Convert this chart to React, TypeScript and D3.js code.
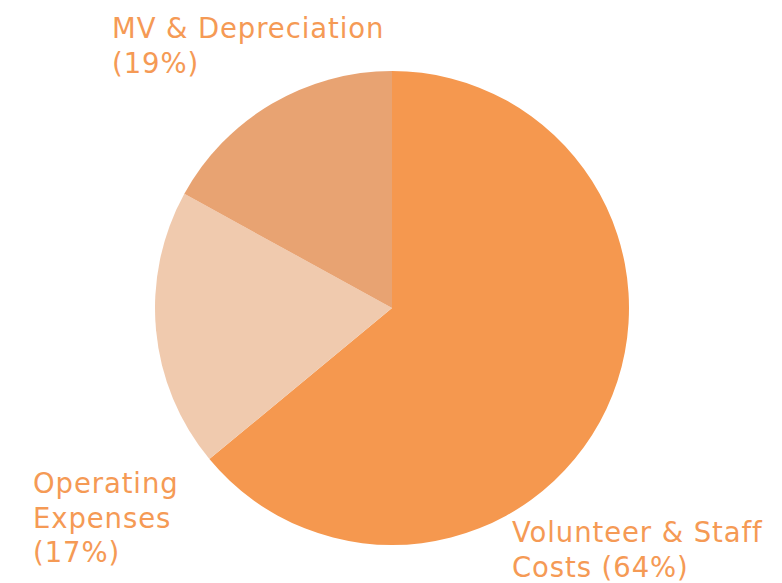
import { useMemo } from 'react'
import { pie, arc } from 'd3'

// slice order follows the picture clockwise from 12 o'clock
const categories = ['Volunteer & Staff Costs', 'Operating Expenses', 'MV & Depreciation']
const values = [64, 19, 17]
const colors = ['#F5984F', '#F0CAAE', '#E8A372']

// label text as printed, line by line
const labelLines = [
  ['Volunteer & Staff', 'Costs (64%)'],
  ['Operating', 'Expenses', '(17%)'],
  ['MV & Depreciation', '(19%)'],
]
const labelPos = [
  { x: 512, y: 542 },
  { x: 33, y: 493 },
  { x: 112, y: 38 },
]

const W = 782
const H = 583

const App = () => {
  const cx = 392
  const cy = 308
  const r = 237

  const slices = useMemo(() => pie<number>().sort(null).value(d => d)(values), [])
  const arcGen = arc<any>().innerRadius(0).outerRadius(r)

  return (
    <svg width={W} height={H} style={{ position: 'absolute', left: 0, top: 0 }}>
      <rect width={W} height={H} fill="#fff" />
      <g transform={`translate(${cx},${cy})`}>
        {slices.map((s, i) => (
          <path key={categories[i]} d={arcGen(s) || ''} fill={colors[i]} />
        ))}
      </g>
      {labelLines.map((lines, i) => (
        <text key={i} x={labelPos[i].x} y={labelPos[i].y} fill="#F59A55"
          fontFamily="'DejaVu Sans', sans-serif" fontSize={27.5} letterSpacing={0.9}>
          {lines.map((l, j) => (
            <tspan key={j} x={labelPos[i].x} dy={j === 0 ? 0 : 34.5}>{l}</tspan>
          ))}
        </text>
      ))}
    </svg>
  )
}

export default App
